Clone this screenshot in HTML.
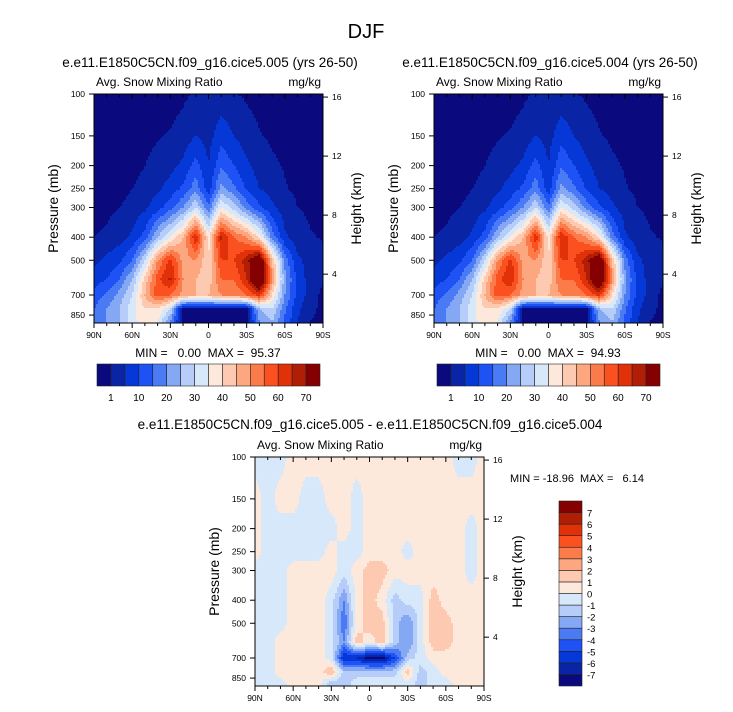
<!DOCTYPE html>
<html><head><meta charset="utf-8">
<style>
html,body{margin:0;padding:0;background:#fff;}
svg{display:block;font-family:"Liberation Sans",Arial,sans-serif;}
.pre{white-space:pre;}
</style></head>
<body>
<svg id="fig" width="733" height="712" viewBox="0 0 733 712" xmlns="http://www.w3.org/2000/svg">
<text x="366" y="38" font-size="20" text-anchor="middle">DJF</text>
</svg>
<script>
// ---- data ----
const lats = [90,80,70,60,50,40,30,20,10,0,-10,-20,-30,-40,-50,-60,-70,-80,-90];
const levels = [100,150,200,250,300,400,500,600,700,800,900];
const fieldA = [
[0,0,0,0,0,0,0,0.5,1.2,1.5,1.5,1.2,0.5,0,0,0,0,0,0],
[0,0,0,0,0,0.8,1.2,2,5,3,8,5,2.5,1.2,0.5,0,0,0,0],
[0,0,0,0,1,2,3.5,6,12,5,14,10,6,3,1.5,0.8,0,0,0],
[0,0,0,1,2,4,7,11,18,7,22,16,9,5,3,1.2,0.5,0,0],
[0,0.3,1,2,4,8,13,20,30,16,35,28,18,11,6,2.5,1,0.5,0.3],
[1,1.5,3,6,12,25,35,45,65,38,66,55,50,38,18,6,2.5,1.2,0.8],
[4,6,9,15,30,50,62,48,50,40,60,60,68,80,45,18,6,3,1.5],
[7,10,15,25,42,58,66,50,45,42,55,55,65,85,50,22,8,3,1.5],
[12,16,22,30,45,58,55,48,45,45,50,50,55,62,40,20,8,3,0],
[15,20,25,33,40,40,30,0,0,0,0,0,0,25,30,16,6,2,0],
[15,20,25,33,38,35,20,0,0,0,0,0,0,20,25,14,5,1,0]];
const fieldB = [
[0,0,0,0,0,0,0,0.5,1.2,1.5,1.5,1.2,0.5,0,0,0,0,0,0],
[0,0,0,0,0,0.8,1.2,2,5,3,8,5,2.5,1.2,0.5,0,0,0,0],
[0,0,0,0,1,2,3.5,6,12,5,14,10,6,3,1.5,0.8,0,0,0],
[0,0,0,1,2,4,7,11,18,7,22,16,9,5,3,1.2,0.5,0,0],
[0,0.3,1,2,4,8,13,20,30,16,35,28,18,11,6,2.5,1,0.5,0.3],
[1,1.5,3,6,12,25,35,45,64,38,65,55,50,38,18,6,2.5,1.2,0.8],
[4,6,9,15,30,50,62,48,50,40,60,60,68,80,45,18,6,3,1.5],
[7,10,15,25,42,58,65,50,45,42,55,55,65,84,50,22,8,3,1.5],
[12,16,22,30,45,58,55,48,45,45,50,50,55,62,40,20,8,3,0],
[15,20,25,33,40,40,30,0,0,0,0,0,0,25,30,16,6,2,0],
[15,20,25,33,38,35,20,0,0,0,0,0,0,20,25,14,5,1,0]];
const fieldDiff = [
[-0.5,-0.5,-0.5,0.5,0.5,0.5,0.5,0.5,0.5,0.5,0.5,0.5,0.5,0.5,0.5,0.5,-0.5,-0.5,0.5],
[0.5,-0.5,0.5,0.5,-0.5,-0.5,0.5,0.5,-0.5,0.5,0.5,0.5,0.5,0.5,0.5,0.5,0.5,0.5,0.5],
[0.5,-0.5,-0.5,-0.5,-0.5,-0.5,-0.5,0.5,-0.5,0.5,0.5,0.5,0.5,0.5,0.5,0.5,0.5,-0.5,0.5],
[0.5,-0.5,-0.5,-0.5,-0.5,-0.5,0.5,-0.5,-0.5,0.5,0.5,0.5,-0.5,0.5,0.5,0.5,0.5,-0.5,0.5],
[-0.5,-0.5,-0.5,0.5,0.5,0.5,0.5,-0.5,0.5,1.5,1.5,0.5,0.5,0.5,0.5,0.5,0.5,-0.5,0.5],
[-0.5,-0.5,-0.5,0.5,0.5,0.5,-0.5,-3,0.5,1.5,0.5,-1.5,-0.5,-0.5,1.5,0.5,0.5,0.5,0.5],
[-0.5,-0.5,-0.5,0.5,0.5,0.5,-0.5,-4,0.5,1.5,1.5,-1.5,-3,-0.5,1.5,1.5,0.5,0.5,0.5],
[-0.5,-0.5,0.5,0.5,0.5,0.5,-0.5,-3,1.5,0.5,1.5,-1.5,-3,-0.5,1.5,1.5,0.5,0.5,0.5],
[-0.5,-0.5,0.5,0.5,0.5,0.5,-0.5,-6,-6,-7.5,-7.5,-5,-1.5,-0.5,0.5,0.5,0.5,0.5,0.5],
[-0.5,-0.5,0.5,0.5,0.5,0.5,2,-1.5,-1.5,-1.5,-1.5,-1.5,1.5,-1.5,-0.5,0.5,0.5,0.5,0.5],
[-0.5,-0.5,-0.5,0.5,0.5,0.5,-2,-1.5,-0.5,-0.5,-0.5,-0.5,-0.5,-1.5,-0.5,-0.5,0.5,0.5,0.5]];
const contourLevelsAbs = [1,5,10,15,20,25,30,35,40,45,50,55,60,65,70];
const contourLevelsDiff = [-7,-6,-5,-4,-3,-2,-1,0,1,2,3,4,5,6,7];
const absTickLabels = ["1","10","20","30","40","50","60","70"];
const diffTickLabels = ["-7","-6","-5","-4","-3","-2","-1","0","1","2","3","4","5","6","7"];
const pressureTicks = [100,150,200,250,300,400,500,700,850];
const heightTicks = [16,12,8,4];
const latTickLabels = ["90N","60N","30N","0","30S","60S","90S"];
const palette = ["#0a0a7e","#0a24a6","#0638d8","#1e52f4","#4a7af4","#84a8f4","#b6cdfa","#d8e8fb","#fde8dc","#fdc9b0","#fca780","#fc7b4b","#fb5121","#e03108","#b01e06","#850000"];

const NS="http://www.w3.org/2000/svg";
const svg=document.getElementById('fig');
function el(tag,attrs,parent){const e=document.createElementNS(NS,tag);for(const k in attrs)e.setAttribute(k,attrs[k]);(parent||svg).appendChild(e);return e;}
function txt(s,attrs,parent){const e=el('text',attrs,parent);e.textContent=s;return e;}

const PSCALE=103.3;
function yP(p,y0){return y0+PSCALE*Math.log(p/100);}
function xLat(l,x0,w){return x0+(90-l)/180*w;}
function heightToP(h){return 1013*Math.exp(-h/7.0);}

function sample(field,lat,p){
  let li=(90-lat)/10; if(li<0)li=0; if(li>18)li=18;
  let i0=Math.min(17,Math.floor(li)), fx=li-i0;
  let lp=Math.log(p);
  let k=0; while(k<levels.length-2 && Math.log(levels[k+1])<lp)k++;
  let fy=(lp-Math.log(levels[k]))/(Math.log(levels[k+1])-Math.log(levels[k]));
  fy=Math.max(0,Math.min(1,fy));
  const a=field[k][i0],b=field[k][i0+1],c=field[k+1][i0],d=field[k+1][i0+1];
  return (a*(1-fx)+b*fx)*(1-fy)+(c*(1-fx)+d*fx)*fy;
}
function colorIndex(v,lv){let n=0;for(const t of lv)if(v>=t)n++;return n;}

function panel(opt){
  const g=el('g',{});
  
  
  const x0=opt.x0,y0=opt.y0,W=229,H=229;
  const cells=el('g',{},g);
  
  
  const step=2;
  const ncol=Math.ceil(W/step);
  for(let py=0;py<H;py+=step){
    const p=100*Math.exp((py+step/2)/PSCALE);
    const hh=Math.min(step,H-py);
    let runStart=0,runC=-1;
    for(let ci=0;ci<=ncol;ci++){
      const px=ci*step;
      let c=-2;
      if(ci<ncol){const lat=90-(px+step/2)/W*180;c=colorIndex(sample(opt.field,lat,p),opt.lv);}
      if(c!==runC){
        if(runC>=0){const xe=Math.min(px,W);const r=el('rect',{x:x0+runStart,y:y0+py,width:xe-runStart+0.4,height:hh+0.4,fill:palette[runC]},cells);
          
          }
        runStart=px;runC=c;
      }
    }
  }
  const fr=el('rect',{x:x0,y:y0,width:W,height:H,fill:'none',stroke:'#000','stroke-width':1},g);
  
  
  for(const p of pressureTicks){const y=yP(p,y0);
    el('line',{x1:x0-5,x2:x0,y1:y,y2:y,stroke:'#000'},g);
    const t=txt(String(p),{x:x0-9,y:y+3,'font-size':8.5,'text-anchor':'end'},g);
    
    }
  for(const h of heightTicks){const y=yP(heightToP(h),y0);
    el('line',{x1:x0+W,x2:x0+W+5,y1:y,y2:y,stroke:'#000'},g);
    const t=txt(String(h),{x:x0+W+9,y:y+3,'font-size':8.5},g);
    
    }
  for(let l=90;l>=-90;l-=10){const x=xLat(l,x0,W);const major=(l%30===0);
    el('line',{x1:x,x2:x,y1:y0+H,y2:y0+H+(major?5:3),stroke:'#000'},g);
    el('line',{x1:x,x2:x,y1:y0,y2:y0+(major?5:3),stroke:'#000'},g);}
  latTickLabels.forEach((s,i)=>{const x=x0+i*W/6;
    const t=txt(s,{x:x,y:y0+H+15,'font-size':8.5,'text-anchor':'middle'},g);
    
    });
  let t=txt('Avg. Snow Mixing Ratio',{x:x0+2,y:y0-8,'font-size':12},g);
  
  t=txt('mg/kg',{x:x0+W-2,y:y0-8,'font-size':12,'text-anchor':'end'},g);
  
  t=txt('Pressure (mb)',{x:0,y:0,'font-size':14,'text-anchor':'middle',transform:`translate(${x0-36},${y0+H/2}) rotate(-90)`},g);
  
  t=txt('Height (km)',{x:0,y:0,'font-size':14,'text-anchor':'middle',transform:`translate(${x0+W+38},${y0+H/2}) rotate(-90)`},g);
  
  t=txt(opt.title,{x:opt.titleX,y:opt.titleY,'font-size':13.5,'text-anchor':'middle'},g);
  
}

function hbar(x0,y0,name){
  const g=el('g',{});
  const bw=223/16;
  palette.forEach((c,i)=>{const r=el('rect',{x:x0+i*bw,y:y0,width:bw,height:22,fill:c,stroke:'#222','stroke-width':0.6},g);
    });
  absTickLabels.forEach((s,i)=>{const t=txt(s,{x:x0+(1+2*i)*bw,y:y0+37,'font-size':10,'text-anchor':'middle'},g);
    });
}

panel({name:'panel-case-005',x0:94,y0:94,field:fieldA,lv:contourLevelsAbs,title:'e.e11.E1850C5CN.f09_g16.cice5.005 (yrs 26-50)',titleX:210,titleY:67});
panel({name:'panel-case-004',x0:434,y0:94,field:fieldB,lv:contourLevelsAbs,title:'e.e11.E1850C5CN.f09_g16.cice5.004 (yrs 26-50)',titleX:550,titleY:67});
panel({name:'panel-difference',x0:255,y0:457,field:fieldDiff,lv:contourLevelsDiff,title:'e.e11.E1850C5CN.f09_g16.cice5.005 - e.e11.E1850C5CN.f09_g16.cice5.004',titleX:370,titleY:429});

let t=txt('MIN =   0.00  MAX =  95.37',{x:208,y:357,'font-size':12,'text-anchor':'middle','class':'pre'});

t=txt('MIN =   0.00  MAX =  94.93',{x:548,y:357,'font-size':12,'text-anchor':'middle','class':'pre'});

t=txt('MIN = -18.96  MAX =   6.14',{x:577,y:482,'font-size':11,'text-anchor':'middle','class':'pre'});


hbar(97,364,'colorbar-left');
hbar(437,364,'colorbar-right');

const vg=el('g',{});
const bh=185/16;
palette.forEach((c,i)=>{const r=el('rect',{x:559,y:501+(15-i)*bh,width:23,height:bh,fill:c,stroke:'#222','stroke-width':0.6},vg);
  });
diffTickLabels.forEach((s,i)=>{const y=501+(15-i)*bh;
  const tt=txt(s,{x:587,y:y+4,'font-size':9.5},vg);
  });
</script>
</body></html>
